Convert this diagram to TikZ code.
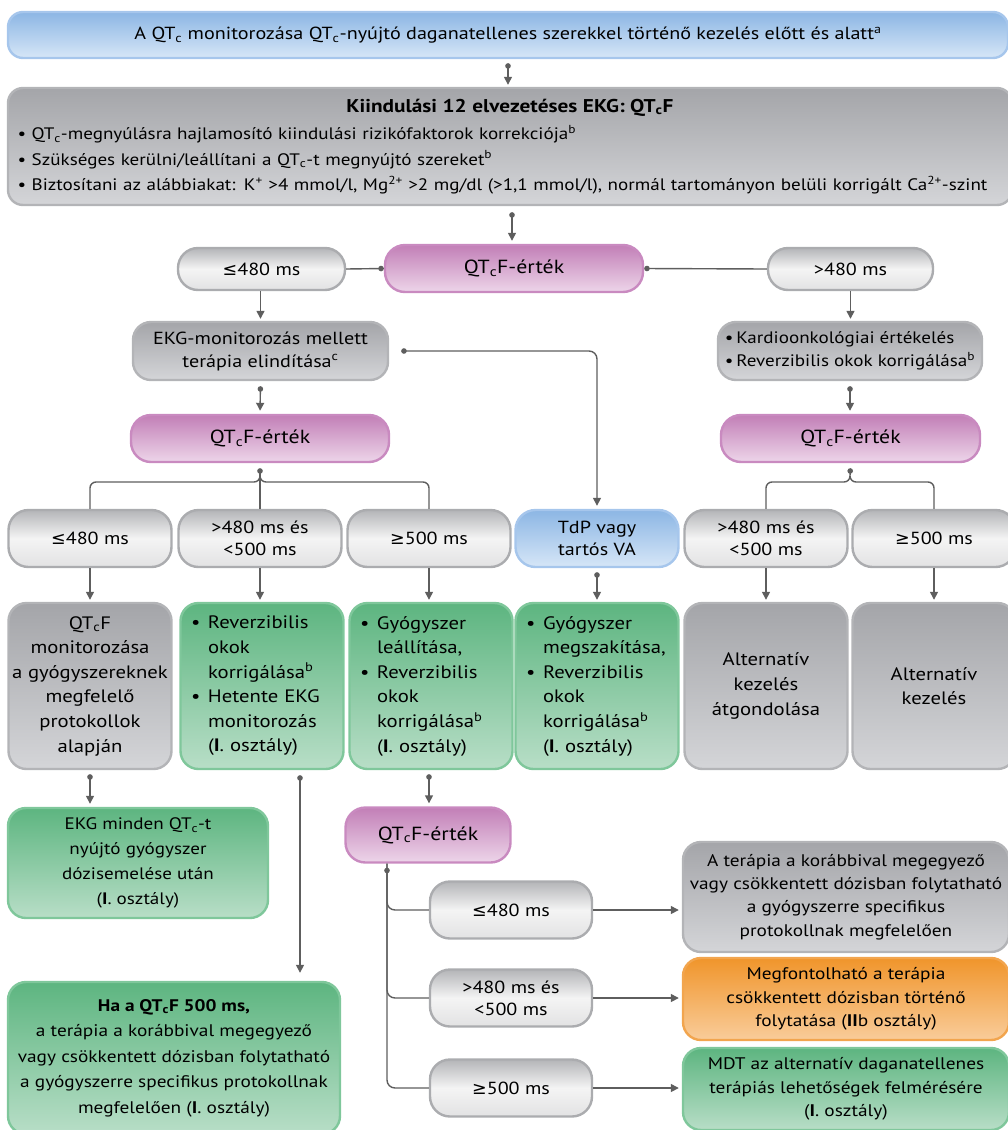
\documentclass[tikz,border=0pt]{standalone}
\usepackage{fontspec}
\setmainfont{PT Sans}[FakeStretch=1.15]
\newfontfamily\symf{DejaVu Sans}
\usetikzlibrary{arrows.meta,calc}
\newcommand{\QTc}{QT\textsubscript{c}}
\newcommand{\lsym}{{\symf ≤}}
\newcommand{\gsym}{{\symf ≥}}
\newcommand{\bul}{\makebox[17pt][l]{\textbullet}}
\newcommand{\ind}{\hspace*{17pt}}
\definecolor{lc}{HTML}{5E5E5E}
\definecolor{bluet}{HTML}{8CB6E4}
\definecolor{blueb}{HTML}{D6E6F7}
\definecolor{bluebd}{HTML}{A6C6EC}
\definecolor{grayt}{HTML}{A4A5A9}
\definecolor{grayb}{HTML}{D4D5D8}
\definecolor{graybd}{HTML}{B3B4B7}
\definecolor{pillt}{HTML}{B4B5B8}
\definecolor{pillm}{HTML}{F4F4F4}
\definecolor{pillb}{HTML}{E2E2E3}
\definecolor{pillbd}{HTML}{ABACAF}
\definecolor{pinkt}{HTML}{C27FB7}
\definecolor{pinkb}{HTML}{EDD5E9}
\definecolor{pinkbd}{HTML}{C98AC0}
\definecolor{greent}{HTML}{5DB580}
\definecolor{greenb}{HTML}{B8DEC7}
\definecolor{greenbd}{HTML}{7FC79B}
\definecolor{oranget}{HTML}{F0952B}
\definecolor{orangeb}{HTML}{F9CC9A}
\definecolor{orangebd}{HTML}{F2A54E}
\tikzset{
  conn/.style={draw=lc, line width=1.4pt},
  arr/.style={conn, -{Triangle[length=8pt,width=8pt]}},
  darr/.style={conn, {Circle[length=5.5pt]}-{Triangle[length=8pt,width=8pt]}},
  dln/.style={conn, {Circle[length=5.5pt]}-},
  base/.style={line width=2.4pt, align=center, inner sep=0pt, rounded corners=15pt},
  bluebox/.style={base, draw=bluebd, top color=bluet, bottom color=blueb},
  graybox/.style={base, draw=graybd, top color=grayt, bottom color=grayb},
  pill/.style={base, draw=pillbd, top color=pillt, bottom color=pillb, middle color=pillm, rounded corners=20pt, font=\fontsize{17.5}{22}\selectfont},
  pinkbox/.style={base, draw=pinkbd, top color=pinkt, bottom color=pinkb, rounded corners=20pt, font=\fontsize{19}{22}\selectfont},
  greenbox/.style={base, draw=greenbd, top color=greent, bottom color=greenb},
  orangebox/.style={base, draw=orangebd, top color=oranget, bottom color=orangeb},
  r6/.style={minimum width=163pt, minimum height=57pt, font=\fontsize{17.5}{22}\selectfont},
  r7/.style={minimum width=163pt, minimum height=166pt, rounded corners=18pt, font=\fontsize{18}{24.6}\selectfont},
  ebox/.style={minimum width=326pt, rounded corners=18pt, font=\fontsize{16.8}{23.3}\selectfont},
}
\begin{document}
\begin{tikzpicture}[x=1pt, y=-1pt, font=\fontsize{17.5}{23}\selectfont]
\useasboundingbox (0,0) rectangle (1007,1130);
% top
\node[bluebox, minimum width=1000pt, minimum height=46pt, font=\fontsize{17.5}{20}\selectfont] (top) at (508,35)
  {A \QTc\ monitorozása \QTc-nyújtó daganatellenes szerekkel történő kezelés előtt és alatt\textsuperscript{a}};
\node[graybox, minimum width=1004pt, minimum height=117pt, text width=985pt, align=left, font=\fontsize{16.6}{25.5}\selectfont] (base) at (510,146.5)
  {\makebox[\linewidth]{\fontsize{18.5}{25.5}\selectfont\bfseries Kiindulási 12 elvezetéses EKG: \QTc F}\\[2pt]
   \textbullet\ \QTc-megnyúlásra hajlamosító kiindulási rizikófaktorok korrekciója\textsuperscript{b}\\
   \textbullet\ Szükséges kerülni/leállítani a \QTc-t megnyújtó szereket\textsuperscript{b}\\
   \textbullet\ Biztosítani az alábbiakat: K\textsuperscript{+} >4 mmol/l, Mg\textsuperscript{2+} >2 mg/dl (>1,1 mmol/l), normál tartományon belüli korrigált Ca\textsuperscript{2+}-szint};
% row 3
\node[pill, minimum width=167pt, minimum height=42pt] (le1) at (261.5,269) {\lsym480 ms};
\node[pinkbox, minimum width=258pt, minimum height=47pt] (q1) at (514,268.5) {\QTc F-érték};
\node[pill, minimum width=165pt, minimum height=42pt] (gt1) at (850.5,269) {>480 ms};
% row 4
\node[graybox, minimum width=255pt, minimum height=58pt, rounded corners=18pt] (ekg) at (260.5,351)
  {EKG-monitorozás mellett\\terápia elindítása\textsuperscript{c}};
\node[graybox, minimum width=264pt, minimum height=58pt, rounded corners=18pt, align=left, font=\fontsize{16.6}{23}\selectfont] (kar) at (850,351)
  {\textbullet\,Kardioonkológiai értékelés\\\textbullet\,Reverzibilis okok korrigálása\textsuperscript{b}};
% row 5
\node[pinkbox, minimum width=258pt, minimum height=47pt] (q2) at (260,438.5) {\QTc F-érték};
\node[pinkbox, minimum width=259pt, minimum height=47pt] (q3) at (850.5,438.5) {\QTc F-érték};
% row 6
\node[pill, r6] (b1) at (90,538.5) {\lsym480 ms};
\node[pill, r6] (b2) at (260,538.5) {>480 ms és\\<500 ms};
\node[pill, r6] (b3) at (429,538.5) {\gsym500 ms};
\node[bluebox, r6, rounded corners=20pt] (b4) at (597,538.5) {TdP vagy\\tartós VA};
\node[pill, r6] (b5) at (766,538.5) {>480 ms és\\<500 ms};
\node[pill, r6] (b6) at (934,538.5) {\gsym500 ms};
% row 7
\node[graybox, r7] (c1) at (90,686) {\QTc F\\monitorozása\\a gyógyszereknek\\megfelelő\\protokollok\\alapján};
\node[greenbox, r7, text width=142pt, align=left] (c2) at (262,686)
  {\bul Reverzibilis\\\ind okok\\\ind korrigálása\textsuperscript{b}\\\bul Hetente EKG\\\ind monitorozás\\\ind (\textbf{I}. osztály)};
\node[greenbox, r7, text width=142pt, align=left] (c3) at (431,686)
  {\bul Gyógyszer\\\ind leállítása,\\\bul Reverzibilis\\\ind okok\\\ind korrigálása\textsuperscript{b}\\\ind (\textbf{I}. osztály)};
\node[greenbox, r7, text width=142pt, align=left] (c4) at (597,686)
  {\bul Gyógyszer\\\ind megszakítása,\\\bul Reverzibilis\\\ind okok\\\ind korrigálása\textsuperscript{b}\\\ind (\textbf{I}. osztály)};
\node[graybox, r7] (c5) at (766,686) {Alternatív\\kezelés\\átgondolása};
\node[graybox, r7] (c6) at (934,686) {Alternatív\\kezelés};
% row 8
\node[greenbox, minimum width=260pt, minimum height=110pt, rounded corners=18pt, font=\fontsize{16.6}{25}\selectfont] (d1) at (138,863)
  {EKG minden \QTc-t\\nyújtó gyógyszer\\dózisemelése után\\(\textbf{I}. osztály)};
\node[pinkbox, minimum width=165pt, minimum height=55pt] (q4) at (428,835) {\QTc F-érték};
\node[greenbox, minimum width=332pt, minimum height=152pt, rounded corners=18pt, font=\fontsize{16.8}{25.5}\selectfont] (d2) at (174,1058)
  {\textbf{Ha a \QTc F 500 ms,}\\a terápia a korábbival megegyező\\vagy csökkentett dózisban folytatható\\a gyógyszerre specifikus protokollnak\\megfelelően (\textbf{I}. osztály)};
\node[pill, minimum width=162pt, minimum height=57pt] (g1) at (511,910) {\lsym480 ms};
\node[pill, minimum width=162pt, minimum height=57pt] (g2) at (511,998) {>480 ms és\\<500 ms};
\node[pill, minimum width=162pt, minimum height=57pt] (g3) at (511,1088) {\gsym500 ms};
\node[graybox, ebox, minimum height=110pt] (e1) at (846,897)
  {A terápia a korábbival megegyező\\vagy csökkentett dózisban folytatható\\a gyógyszerre specifikus\\protokollnak megfelelően};
\node[orangebox, ebox, minimum height=82pt] (e2) at (846,999)
  {Megfontolható a terápia\\csökkentett dózisban történő\\folytatása (\textbf{II}b osztály)};
\node[greenbox, ebox, minimum height=82pt] (e3) at (846,1089)
  {MDT az alternatív daganatellenes\\terápiás lehetőségek felmérésére\\(\textbf{I}. osztály)};
% connectors
\draw[darr, shorten <=4pt, shorten >=2pt] (top.south) -- (base.north -| top.south);
\draw[darr, shorten <=6pt, shorten >=3pt] (base.south -| q1.north) ++(-2,0) -- ([xshift=-2pt]q1.north);
\draw[dln] (q1.west) -- (le1.east);
\draw[dln] (q1.east) -- (gt1.west);
\draw[arr, shorten >=2pt] (le1.south -| ekg.north) -- (ekg.north);
\draw[arr, shorten >=2pt] (gt1.south) -- (gt1.south |- kar.north);
\draw[darr, shorten <=5pt, shorten >=3pt] (ekg.south) -- (q2.north);
\draw[darr, shorten <=5pt, shorten >=3pt] (kar.south) -- (kar.south |- q3.north);
\coordinate (ekgo) at ([xshift=12pt]ekg.east);
\draw[darr, rounded corners=8pt, shorten >=3pt] (ekgo) -| (b4.north);
% left brace
\coordinate (bl) at (260,482);
\draw[dln, shorten <=5pt] (q2.south) -- (b2.north);
\draw[conn, rounded corners=6pt] ([yshift=6pt]bl) -- (bl) -| (b1.north);
\draw[conn, rounded corners=6pt] ([yshift=6pt]bl) -- (bl) -| (b3.north);
% right brace
\coordinate (br) at (850,482);
\draw[dln, shorten <=5pt] (q3.south) -- ([yshift=6pt]br);
\draw[conn, rounded corners=6pt] ([yshift=6pt]br) -- (br) -| (b5.north);
\draw[conn, rounded corners=6pt] ([yshift=6pt]br) -- (br) -| (b6.north);
% row6 -> row7
\foreach \i in {1,2,3,5,6}{\draw[arr, shorten >=2pt] (b\i.south) -- (b\i.south |- c\i.north);}
\draw[darr, shorten <=4pt, shorten >=2pt] (b4.south) -- (c4.north);
% row7 -> row8
\draw[darr, shorten <=4pt, shorten >=3pt] (c1.south) -- (d1.north -| c1.south);
\coordinate (c2o) at ([xshift=38pt]c2.south);
\draw[darr, shorten <=5pt, shorten >=8pt] (c2o) -- (c2o |- d2.north);
\draw[darr, shorten <=4pt, shorten >=3pt] (b3.south |- c3.south) -- (b3.south |- q4.north);
% lower branch
\coordinate (bx) at ([xshift=-41pt]q4.south);
\draw[dln, shorten <=4pt, rounded corners=8pt] (bx) |- (g3.west);
\draw[conn, rounded corners=8pt] (bx) |- (g1.west);
\draw[conn, rounded corners=8pt] (bx) |- (g2.west);
\draw[arr, shorten >=3pt] (g1.east) -- (g1.east -| e1.west);
\draw[arr, shorten >=3pt] (g2.east) -- (g2.east -| e2.west);
\draw[arr, shorten >=3pt] (g3.east) -- (g3.east -| e3.west);
\end{tikzpicture}
\end{document}
